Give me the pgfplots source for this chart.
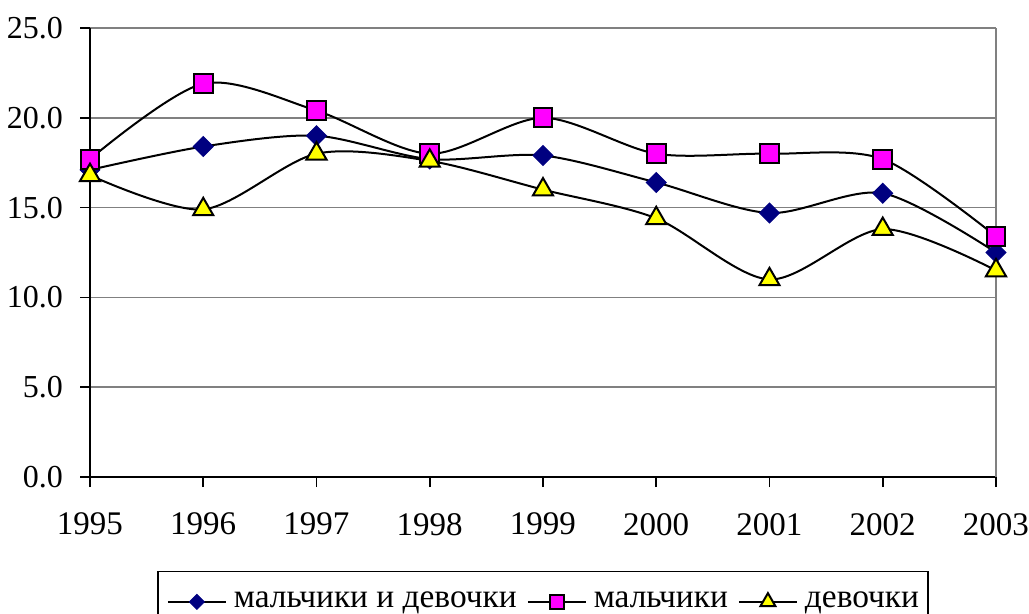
\documentclass[border=0pt]{standalone}
\usepackage{pgfplots}
\pgfplotsset{compat=1.18}
\usepackage{fontspec}
\setmainfont{Liberation Serif}
\definecolor{navy}{RGB}{0,0,128}
\definecolor{mag}{RGB}{255,0,255}
\definecolor{yel}{RGB}{255,255,0}
\definecolor{gridgray}{RGB}{128,128,128}
\begin{document}
\fontsize{16bp}{19bp}\selectfont
\begin{tikzpicture}
\begin{axis}[
  at={(0,0)}, anchor=south west,
  scale only axis, width=453bp, height=224.5bp,
  xmin=1995, xmax=2003, ymin=0, ymax=25,
  xtick={1995,1996,...,2003},
  ytick={0,5,...,25},
  axis lines*=left,
  axis line style={-, black, line width=0.8bp},
  tick align=outside,
  major tick length=5bp,
  tick style={black, line width=0.8bp},
  ymajorgrids,
  grid style={gridgray, line width=0.8bp},
  extra x ticks={2003},
  extra x tick labels={},
  extra x tick style={xmajorgrids, tick style={draw=none}, grid style={gridgray, line width=0.8bp}},
  x tick label style={/pgf/number format/1000 sep={}, yshift=-7.5bp, font=\fontsize{16.5bp}{19bp}\selectfont},
  y tick label style={/pgf/number format/.cd, fixed, fixed zerofill, precision=1, /tikz/.cd, xshift=-3bp, font=\fontsize{16bp}{19bp}\selectfont},
  /pgf/number format/assume math mode=true,
  every axis plot/.append style={black, line width=1bp, smooth},
  legend style={at={(0.5,0)}, anchor=north, yshift=-47bp, draw=black, line width=0.6bp,
    legend columns=-1, inner xsep=4.5bp, inner ysep=8bp,
    font=\fontsize{16.7bp}{19bp}\selectfont,
    nodes={inner xsep=0bp},
    /tikz/every odd column/.append style={column sep=3.5bp},
    /tikz/every even column/.append style={column sep=5bp}},
  legend image code/.code={
    \draw[mark repeat=2, mark phase=2, #1, every mark/.append style={scale=0.75}] plot coordinates {(0bp,0bp) (14.5bp,0bp) (29bp,0bp)};
  },
]
\addplot[mark=square*, mark size=3.5bp, mark options={rotate=45, fill=navy, draw=navy, line width=0.5bp}]
  coordinates {(1995,17.1) (1996,18.4) (1997,19.0) (1998,17.7) (1999,17.9) (2000,16.4) (2001,14.7) (2002,15.8) (2003,12.5)};
\addlegendentry{мальчики и девочки}
\addplot[mark=square*, mark size=4.7bp, mark options={fill=mag, draw=black, line width=1bp}]
  coordinates {(1995,17.7) (1996,21.9) (1997,20.4) (1998,18.0) (1999,20.0) (2000,18.0) (2001,18.0) (2002,17.7) (2003,13.4)};
\addlegendentry{мальчики}
\addplot[mark=triangle*, mark size=5.8bp, mark options={fill=yel, draw=black, line width=1bp}]
  coordinates {(1995,16.8) (1996,14.9) (1997,18.0) (1998,17.6) (1999,16.0) (2000,14.4) (2001,11.0) (2002,13.8) (2003,11.5)};
\addlegendentry{девочки}
\end{axis}
\pgfresetboundingbox
\useasboundingbox (-45bp,-68.5bp) rectangle (469.5bp,238.5bp);
\end{tikzpicture}
\end{document}
